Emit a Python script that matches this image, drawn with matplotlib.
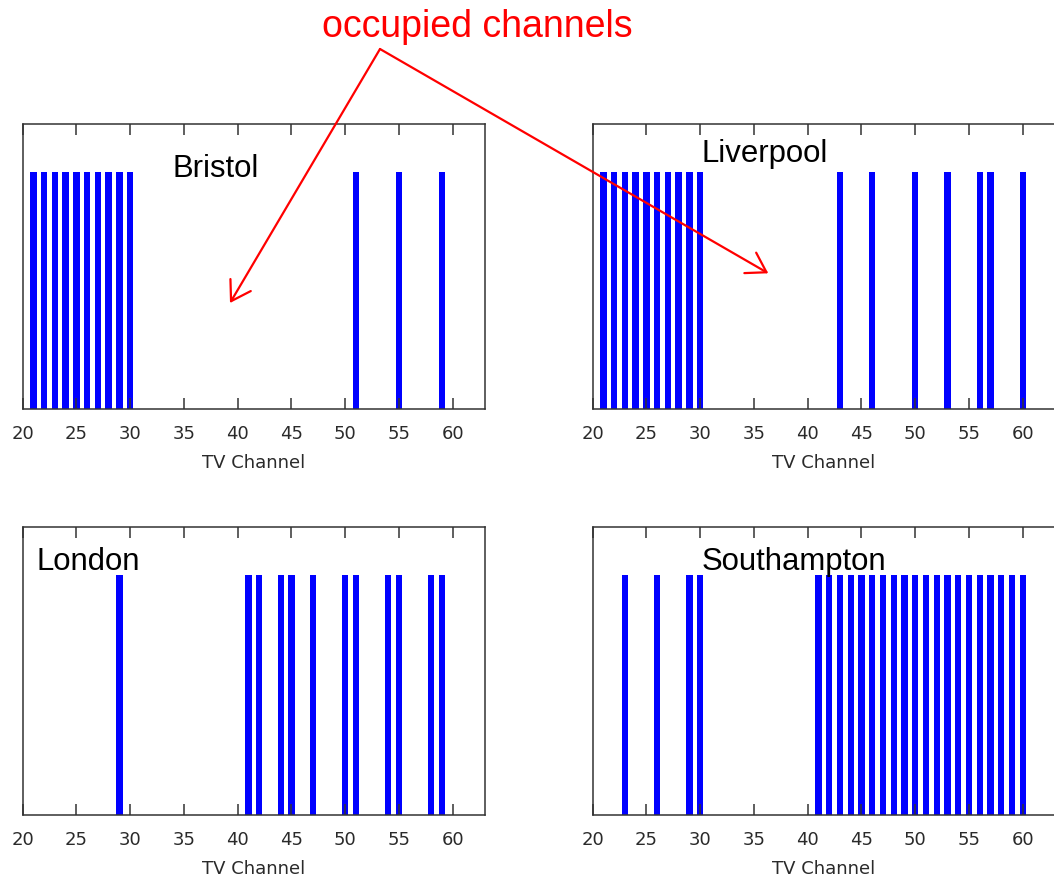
import matplotlib
matplotlib.use("Agg")
import matplotlib.pyplot as plt
from matplotlib.patches import FancyArrowPatch

# ---- data ----
cities = ["Bristol", "Liverpool", "London", "Southampton"]
bristol = [21, 22, 23, 24, 25, 26, 27, 28, 29, 30, 51, 55, 59]
liverpool = [21, 22, 23, 24, 25, 26, 27, 28, 29, 30, 43, 46, 50, 53, 56, 57, 60]
london = [29, 41, 42, 44, 45, 47, 50, 51, 54, 55, 58, 59]
southampton = [23, 26, 29, 30, 41, 42, 43, 44, 45, 46, 47, 48, 49, 50,
               51, 52, 53, 54, 55, 56, 57, 58, 59, 60]
occupied = [1.0]
xticks = [20, 25, 30, 35, 40, 45, 50, 55, 60]
xlabel = "TV Channel"
title = "occupied channels"

W, H = 1054, 877
fig = plt.figure(figsize=(W / 100, H / 100), dpi=100)

def px_axes(x0, y0, x1, y1):
    return [x0 / W, 1 - y1 / H, (x1 - x0) / W, (y1 - y0) / H]

panels = [
    (bristol, "Bristol", px_axes(22.7, 124, 485, 409.3), (33.9, 0.978)),
    (liverpool, "Liverpool", px_axes(592.7, 124, 1055, 409.3), (30.1, 1.041)),
    (london, "London", px_axes(22.7, 527.3, 485, 815.3), (21.3, 1.022)),
    (southampton, "Southampton", px_axes(592.7, 527.3, 1055, 815.3), (30.1, 1.022)),
]

spine_col = "#333333"
for chans, name, rect, (tx, ty) in panels:
    ax = fig.add_axes(rect)
    ax.bar(chans, occupied * len(chans), width=0.6, color="#0000FF", linewidth=0)
    ax.set_xlim(20, 63)
    ax.set_ylim(0, 1.2)
    ax.set_xticks(xticks)
    ax.set_yticks([])
    ax.tick_params(axis="x", direction="in", length=8, width=1.1, top=True,
                   bottom=True, color=spine_col, labelsize=13, labelcolor="#2a2a2a",
                   pad=11)
    for lbl in ax.get_xticklabels():
        lbl.set_x(lbl.get_position()[0])
    for s in ax.spines.values():
        s.set_color(spine_col)
        s.set_linewidth(1.1)
    ax.set_xlabel(xlabel, fontsize=13, color="#2a2a2a", labelpad=8.5)
    ax.text(tx, ty, name, fontsize=22.4, family="Liberation Sans",
            ha="left", va="baseline", color="black")

fig.text(477.5 / W, 1 - 37 / H, title, fontsize=27, family="Liberation Sans",
         color="#FF0000", ha="center", va="baseline")

apex = (380 / W, 1 - 49 / H)
for tip in [(230 / W, 1 - 303 / H), (768.3 / W, 1 - 273.3 / H)]:
    arr = FancyArrowPatch(apex, tip, transform=fig.transFigure,
                          arrowstyle="->,head_length=1.35,head_width=0.85",
                          mutation_scale=10, lw=1.6, color="#FF0000",
                          shrinkA=0, shrinkB=0)
    fig.add_artist(arr)

fig.savefig("out.png", dpi=100)
